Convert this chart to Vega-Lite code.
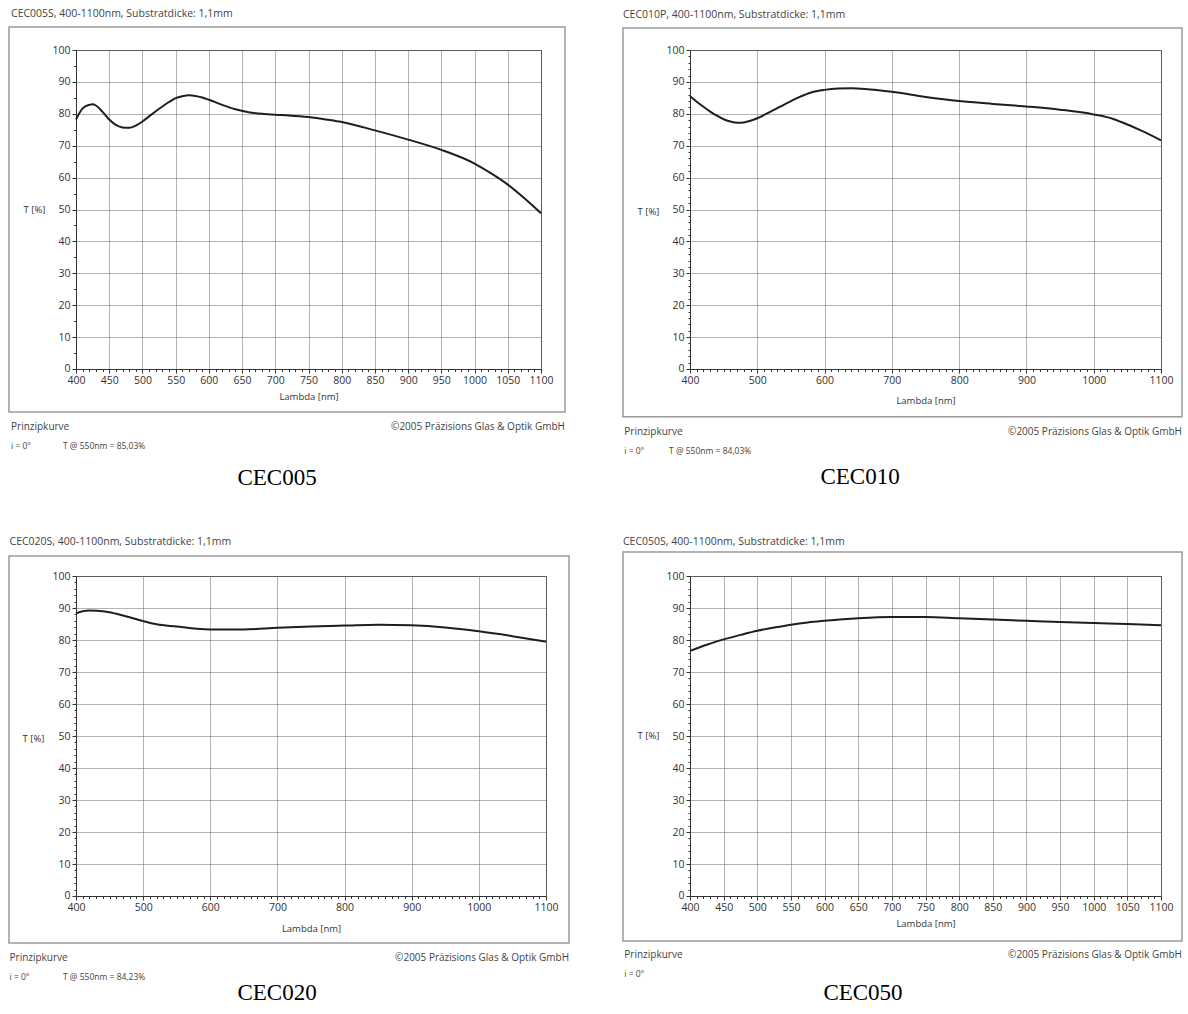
{
  "$schema": "https://vega.github.io/schema/vega-lite/v6.json",
  "background": "white",
  "padding": {"left": 7, "top": 8, "right": 0, "bottom": 0},
  "datasets": {
    "notes": [
      {"panel": "CEC005", "title": "CEC005S, 400-1100nm, Substratdicke: 1,1mm", "left": "Prinzipkurve", "right": "©2005 Präzisions Glas & Optik GmbH", "angle": "i = 0°", "tval": "T @ 550nm = 85,03%", "caption": "CEC005"},
      {"panel": "CEC010", "title": "CEC010P, 400-1100nm, Substratdicke: 1,1mm", "left": "Prinzipkurve", "right": "©2005 Präzisions Glas & Optik GmbH", "angle": "i = 0°", "tval": "T @ 550nm = 84,03%", "caption": "CEC010"},
      {"panel": "CEC020", "title": "CEC020S, 400-1100nm, Substratdicke: 1,1mm", "left": "Prinzipkurve", "right": "©2005 Präzisions Glas & Optik GmbH", "angle": "i = 0°", "tval": "T @ 550nm = 84,23%", "caption": "CEC020"},
      {"panel": "CEC050", "title": "CEC050S, 400-1100nm, Substratdicke: 1,1mm", "left": "Prinzipkurve", "right": "©2005 Präzisions Glas & Optik GmbH", "angle": "i = 0°", "tval": "", "caption": "CEC050"}
    ],
    "curves": [
      {"panel": "CEC005", "nm": 400, "T": 78.2}, {"panel": "CEC005", "nm": 410, "T": 81.7}, {"panel": "CEC005", "nm": 420, "T": 82.8}, {"panel": "CEC005", "nm": 425, "T": 83.0}, {"panel": "CEC005", "nm": 430, "T": 82.6}, {"panel": "CEC005", "nm": 440, "T": 80.6}, {"panel": "CEC005", "nm": 450, "T": 78.2}, {"panel": "CEC005", "nm": 460, "T": 76.5}, {"panel": "CEC005", "nm": 470, "T": 75.7}, {"panel": "CEC005", "nm": 480, "T": 75.6}, {"panel": "CEC005", "nm": 490, "T": 76.3}, {"panel": "CEC005", "nm": 500, "T": 77.6}, {"panel": "CEC005", "nm": 510, "T": 79.2}, {"panel": "CEC005", "nm": 520, "T": 80.8}, {"panel": "CEC005", "nm": 530, "T": 82.3}, {"panel": "CEC005", "nm": 540, "T": 83.7}, {"panel": "CEC005", "nm": 550, "T": 84.9}, {"panel": "CEC005", "nm": 560, "T": 85.5}, {"panel": "CEC005", "nm": 570, "T": 85.8}, {"panel": "CEC005", "nm": 580, "T": 85.6}, {"panel": "CEC005", "nm": 590, "T": 85.1}, {"panel": "CEC005", "nm": 600, "T": 84.4}, {"panel": "CEC005", "nm": 620, "T": 82.8}, {"panel": "CEC005", "nm": 640, "T": 81.4}, {"panel": "CEC005", "nm": 660, "T": 80.5}, {"panel": "CEC005", "nm": 680, "T": 80.0}, {"panel": "CEC005", "nm": 700, "T": 79.7}, {"panel": "CEC005", "nm": 720, "T": 79.5}, {"panel": "CEC005", "nm": 750, "T": 79.0}, {"panel": "CEC005", "nm": 780, "T": 78.1}, {"panel": "CEC005", "nm": 800, "T": 77.4}, {"panel": "CEC005", "nm": 850, "T": 74.8}, {"panel": "CEC005", "nm": 900, "T": 71.9}, {"panel": "CEC005", "nm": 950, "T": 68.7}, {"panel": "CEC005", "nm": 1000, "T": 64.4}, {"panel": "CEC005", "nm": 1025, "T": 61.3}, {"panel": "CEC005", "nm": 1050, "T": 57.8}, {"panel": "CEC005", "nm": 1075, "T": 53.5}, {"panel": "CEC005", "nm": 1100, "T": 48.8},
      {"panel": "CEC010", "nm": 400, "T": 85.5}, {"panel": "CEC010", "nm": 410, "T": 83.8}, {"panel": "CEC010", "nm": 420, "T": 82.2}, {"panel": "CEC010", "nm": 430, "T": 80.7}, {"panel": "CEC010", "nm": 440, "T": 79.4}, {"panel": "CEC010", "nm": 450, "T": 78.3}, {"panel": "CEC010", "nm": 460, "T": 77.6}, {"panel": "CEC010", "nm": 470, "T": 77.2}, {"panel": "CEC010", "nm": 480, "T": 77.3}, {"panel": "CEC010", "nm": 490, "T": 77.8}, {"panel": "CEC010", "nm": 500, "T": 78.6}, {"panel": "CEC010", "nm": 520, "T": 80.7}, {"panel": "CEC010", "nm": 540, "T": 82.9}, {"panel": "CEC010", "nm": 550, "T": 84.0}, {"panel": "CEC010", "nm": 560, "T": 85.0}, {"panel": "CEC010", "nm": 580, "T": 86.7}, {"panel": "CEC010", "nm": 600, "T": 87.5}, {"panel": "CEC010", "nm": 620, "T": 87.9}, {"panel": "CEC010", "nm": 640, "T": 88.0}, {"panel": "CEC010", "nm": 660, "T": 87.8}, {"panel": "CEC010", "nm": 680, "T": 87.4}, {"panel": "CEC010", "nm": 700, "T": 86.9}, {"panel": "CEC010", "nm": 750, "T": 85.3}, {"panel": "CEC010", "nm": 800, "T": 84.0}, {"panel": "CEC010", "nm": 850, "T": 83.1}, {"panel": "CEC010", "nm": 900, "T": 82.3}, {"panel": "CEC010", "nm": 950, "T": 81.3}, {"panel": "CEC010", "nm": 1000, "T": 79.8}, {"panel": "CEC010", "nm": 1030, "T": 78.3}, {"panel": "CEC010", "nm": 1040, "T": 77.5}, {"panel": "CEC010", "nm": 1070, "T": 74.8}, {"panel": "CEC010", "nm": 1100, "T": 71.7},
      {"panel": "CEC020", "nm": 400, "T": 88.3}, {"panel": "CEC020", "nm": 410, "T": 89.0}, {"panel": "CEC020", "nm": 420, "T": 89.2}, {"panel": "CEC020", "nm": 440, "T": 89.0}, {"panel": "CEC020", "nm": 460, "T": 88.2}, {"panel": "CEC020", "nm": 480, "T": 87.1}, {"panel": "CEC020", "nm": 500, "T": 85.9}, {"panel": "CEC020", "nm": 520, "T": 84.9}, {"panel": "CEC020", "nm": 550, "T": 84.2}, {"panel": "CEC020", "nm": 580, "T": 83.5}, {"panel": "CEC020", "nm": 600, "T": 83.3}, {"panel": "CEC020", "nm": 650, "T": 83.3}, {"panel": "CEC020", "nm": 700, "T": 83.8}, {"panel": "CEC020", "nm": 750, "T": 84.2}, {"panel": "CEC020", "nm": 800, "T": 84.5}, {"panel": "CEC020", "nm": 850, "T": 84.8}, {"panel": "CEC020", "nm": 900, "T": 84.6}, {"panel": "CEC020", "nm": 950, "T": 83.9}, {"panel": "CEC020", "nm": 1000, "T": 82.7}, {"panel": "CEC020", "nm": 1050, "T": 81.2}, {"panel": "CEC020", "nm": 1100, "T": 79.5},
      {"panel": "CEC050", "nm": 400, "T": 76.6}, {"panel": "CEC050", "nm": 425, "T": 78.5}, {"panel": "CEC050", "nm": 450, "T": 80.2}, {"panel": "CEC050", "nm": 475, "T": 81.6}, {"panel": "CEC050", "nm": 500, "T": 82.9}, {"panel": "CEC050", "nm": 525, "T": 83.9}, {"panel": "CEC050", "nm": 550, "T": 84.8}, {"panel": "CEC050", "nm": 575, "T": 85.5}, {"panel": "CEC050", "nm": 600, "T": 86.0}, {"panel": "CEC050", "nm": 650, "T": 86.8}, {"panel": "CEC050", "nm": 700, "T": 87.2}, {"panel": "CEC050", "nm": 750, "T": 87.2}, {"panel": "CEC050", "nm": 800, "T": 86.8}, {"panel": "CEC050", "nm": 850, "T": 86.4}, {"panel": "CEC050", "nm": 900, "T": 86.0}, {"panel": "CEC050", "nm": 950, "T": 85.6}, {"panel": "CEC050", "nm": 1000, "T": 85.3}, {"panel": "CEC050", "nm": 1050, "T": 85.0}, {"panel": "CEC050", "nm": 1100, "T": 84.6}
    ]
  },
  "bounds": "flush",
  "columns": 2,
  "spacing": {"row": 207, "column": 144},
  "concat": [
    {
      "width": 465, "height": 319,
      "layer": [
        {"data": {"name": "notes"}, "transform": [{"filter": "datum.panel === 'CEC005'"}],
         "mark": {"type": "rect", "fill": null, "stroke": "#9a9a9a", "strokeWidth": 1.5},
         "encoding": {"x": {"datum": 299.1, "type": "quantitative", "scale": {"domain": [400, 1100], "nice": false, "zero": false}}, "x2": {"datum": 1136.1}, "y": {"datum": 107.2, "type": "quantitative", "scale": {"domain": [0, 100], "nice": false, "zero": false}}, "y2": {"datum": -13.5}}},
        {"data": {"name": "curves"}, "transform": [{"filter": "datum.panel === 'CEC005'"}],
         "mark": {"type": "line", "color": "#1e1e1e", "strokeWidth": 2, "interpolate": "monotone"},
         "encoding": {
           "x": {"field": "nm", "type": "quantitative", "scale": {"domain": [400, 1100], "nice": false, "zero": false},
             "axis": {"values": [400,410,420,430,440,450,460,470,480,490,500,510,520,530,540,550,560,570,580,590,600,610,620,630,640,650,660,670,680,690,700,710,720,730,740,750,760,770,780,790,800,810,820,830,840,850,860,870,880,890,900,910,920,930,940,950,960,970,980,990,1000,1010,1020,1030,1040,1050,1060,1070,1080,1090,1100],
               "tickCount": 1000, "format": "d", "labelExpr": "datum.value % 50 === 0 ? datum.label : ''", "grid": true,
               "gridOpacity": {"condition": {"test": "datum.value % 50 === 0", "value": 1}, "value": 0},
               "tickSize": {"condition": {"test": "datum.value % 50 === 0", "value": 4}, "value": 2.5},
               "labelPadding": 2, "title": "Lambda [nm]", "titleX": 232.5, "titleY": 27, "titleAlign": "center", "titleBaseline": "middle"}},
           "y": {"field": "T", "type": "quantitative", "scale": {"domain": [0, 100], "nice": false, "zero": false},
             "axis": {"values": [0,5,10,15,20,25,30,35,40,45,50,55,60,65,70,75,80,85,90,95,100],
               "tickCount": 1000, "format": "d", "labelExpr": "datum.value % 10 === 0 ? datum.label : ''", "grid": true,
               "gridOpacity": {"condition": {"test": "datum.value % 10 === 0", "value": 1}, "value": 0},
               "tickSize": {"condition": {"test": "datum.value % 10 === 0", "value": 4}, "value": 2.5},
               "labelBaseline": {"condition": {"test": "datum.value === 0", "value": "alphabetic"}, "value": "middle"},
               "labelOffset": {"condition": {"test": "datum.value === 0", "value": 2}, "value": 0},
               "labelPadding": 2, "title": "T [%]", "titleAngle": 0, "titleX": -42, "titleY": 159, "titleAlign": "center", "titleBaseline": "middle"}}
         }},
        {"data": {"name": "notes"}, "transform": [{"filter": "datum.panel === 'CEC005'"}],
         "mark": {"type": "text", "align": "left", "baseline": "alphabetic", "fontSize": 10.5},
         "encoding": {"x": {"datum": 302.2, "type": "quantitative"}, "y": {"datum": 110.2, "type": "quantitative"}, "text": {"field": "title"}}},
        {"data": {"name": "notes"}, "transform": [{"filter": "datum.panel === 'CEC005'"}],
         "mark": {"type": "text", "align": "left", "baseline": "middle", "fontSize": 10},
         "encoding": {"x": {"datum": 302.2, "type": "quantitative"}, "y": {"datum": -18.2, "type": "quantitative"}, "text": {"field": "left"}}},
        {"data": {"name": "notes"}, "transform": [{"filter": "datum.panel === 'CEC005'"}],
         "mark": {"type": "text", "align": "right", "baseline": "middle", "fontSize": 10},
         "encoding": {"x": {"datum": 1136.1, "type": "quantitative"}, "y": {"datum": -18.2, "type": "quantitative"}, "text": {"field": "right"}}},
        {"data": {"name": "notes"}, "transform": [{"filter": "datum.panel === 'CEC005'"}],
         "mark": {"type": "text", "align": "left", "baseline": "middle", "fontSize": 8.5},
         "encoding": {"x": {"datum": 302.2, "type": "quantitative"}, "y": {"datum": -24.1, "type": "quantitative"}, "text": {"field": "angle"}}},
        {"data": {"name": "notes"}, "transform": [{"filter": "datum.panel === 'CEC005'"}],
         "mark": {"type": "text", "align": "left", "baseline": "middle", "fontSize": 8.5},
         "encoding": {"x": {"datum": 380.4, "type": "quantitative"}, "y": {"datum": -24.1, "type": "quantitative"}, "text": {"field": "tval"}}},
        {"data": {"name": "notes"}, "transform": [{"filter": "datum.panel === 'CEC005'"}],
         "mark": {"type": "text", "align": "center", "baseline": "middle", "fontSize": 23, "font": "Liberation Serif", "color": "#000"},
         "encoding": {"x": {"datum": 702.6, "type": "quantitative"}, "y": {"datum": -34.2, "type": "quantitative"}, "text": {"field": "caption"}}}
      ]
    },
    {
      "width": 471, "height": 319,
      "layer": [
        {"data": {"name": "notes"}, "transform": [{"filter": "datum.panel === 'CEC010'"}],
         "mark": {"type": "rect", "fill": null, "stroke": "#9a9a9a", "strokeWidth": 1.5},
         "encoding": {"x": {"datum": 300.4, "type": "quantitative", "scale": {"domain": [400, 1100], "nice": false, "zero": false}}, "x2": {"datum": 1131.2}, "y": {"datum": 106.9, "type": "quantitative", "scale": {"domain": [0, 100], "nice": false, "zero": false}}, "y2": {"datum": -15.0}}},
        {"data": {"name": "curves"}, "transform": [{"filter": "datum.panel === 'CEC010'"}],
         "mark": {"type": "line", "color": "#1e1e1e", "strokeWidth": 2, "interpolate": "monotone"},
         "encoding": {
           "x": {"field": "nm", "type": "quantitative", "scale": {"domain": [400, 1100], "nice": false, "zero": false},
             "axis": {"values": [400,410,420,430,440,450,460,470,480,490,500,510,520,530,540,550,560,570,580,590,600,610,620,630,640,650,660,670,680,690,700,710,720,730,740,750,760,770,780,790,800,810,820,830,840,850,860,870,880,890,900,910,920,930,940,950,960,970,980,990,1000,1010,1020,1030,1040,1050,1060,1070,1080,1090,1100],
               "tickCount": 1000, "format": "d", "labelExpr": "datum.value % 100 === 0 ? datum.label : ''", "grid": true,
               "gridOpacity": {"condition": {"test": "datum.value % 100 === 0", "value": 1}, "value": 0},
               "tickSize": {"condition": {"test": "datum.value % 100 === 0", "value": 4}, "value": 2.5},
               "labelPadding": 2, "title": "Lambda [nm]", "titleX": 235.5, "titleY": 31, "titleAlign": "center", "titleBaseline": "middle"}},
           "y": {"field": "T", "type": "quantitative", "scale": {"domain": [0, 100], "nice": false, "zero": false},
             "axis": {"values": [0,2,4,6,8,10,12,14,16,18,20,22,24,26,28,30,32,34,36,38,40,42,44,46,48,50,52,54,56,58,60,62,64,66,68,70,72,74,76,78,80,82,84,86,88,90,92,94,96,98,100],
               "tickCount": 1000, "format": "d", "labelExpr": "datum.value % 10 === 0 ? datum.label : ''", "grid": true,
               "gridOpacity": {"condition": {"test": "datum.value % 10 === 0", "value": 1}, "value": 0},
               "tickSize": {"condition": {"test": "datum.value % 10 === 0", "value": 4}, "value": 2},
               "labelBaseline": {"condition": {"test": "datum.value === 0", "value": "alphabetic"}, "value": "middle"},
               "labelOffset": {"condition": {"test": "datum.value === 0", "value": 2}, "value": 0},
               "labelPadding": 2, "title": "T [%]", "titleAngle": 0, "titleX": -42, "titleY": 161, "titleAlign": "center", "titleBaseline": "middle"}}
         }},
        {"data": {"name": "notes"}, "transform": [{"filter": "datum.panel === 'CEC010'"}],
         "mark": {"type": "text", "align": "left", "baseline": "alphabetic", "fontSize": 10.5},
         "encoding": {"x": {"datum": 300.4, "type": "quantitative"}, "y": {"datum": 110.0, "type": "quantitative"}, "text": {"field": "title"}}},
        {"data": {"name": "notes"}, "transform": [{"filter": "datum.panel === 'CEC010'"}],
         "mark": {"type": "text", "align": "left", "baseline": "middle", "fontSize": 10},
         "encoding": {"x": {"datum": 302.4, "type": "quantitative"}, "y": {"datum": -19.7, "type": "quantitative"}, "text": {"field": "left"}}},
        {"data": {"name": "notes"}, "transform": [{"filter": "datum.panel === 'CEC010'"}],
         "mark": {"type": "text", "align": "right", "baseline": "middle", "fontSize": 10},
         "encoding": {"x": {"datum": 1131.2, "type": "quantitative"}, "y": {"datum": -19.7, "type": "quantitative"}, "text": {"field": "right"}}},
        {"data": {"name": "notes"}, "transform": [{"filter": "datum.panel === 'CEC010'"}],
         "mark": {"type": "text", "align": "left", "baseline": "middle", "fontSize": 8.5},
         "encoding": {"x": {"datum": 302.4, "type": "quantitative"}, "y": {"datum": -25.7, "type": "quantitative"}, "text": {"field": "angle"}}},
        {"data": {"name": "notes"}, "transform": [{"filter": "datum.panel === 'CEC010'"}],
         "mark": {"type": "text", "align": "left", "baseline": "middle", "fontSize": 8.5},
         "encoding": {"x": {"datum": 368.8, "type": "quantitative"}, "y": {"datum": -25.7, "type": "quantitative"}, "text": {"field": "tval"}}},
        {"data": {"name": "notes"}, "transform": [{"filter": "datum.panel === 'CEC010'"}],
         "mark": {"type": "text", "align": "center", "baseline": "middle", "fontSize": 23, "font": "Liberation Serif", "color": "#000"},
         "encoding": {"x": {"datum": 652.7, "type": "quantitative"}, "y": {"datum": -33.9, "type": "quantitative"}, "text": {"field": "caption"}}}
      ]
    },
    {
      "width": 470, "height": 320,
      "layer": [
        {"data": {"name": "notes"}, "transform": [{"filter": "datum.panel === 'CEC020'"}],
         "mark": {"type": "rect", "fill": null, "stroke": "#9a9a9a", "strokeWidth": 1.5},
         "encoding": {"x": {"datum": 300.2, "type": "quantitative", "scale": {"domain": [400, 1100], "nice": false, "zero": false}}, "x2": {"datum": 1134.3}, "y": {"datum": 106.25, "type": "quantitative", "scale": {"domain": [0, 100], "nice": false, "zero": false}}, "y2": {"datum": -14.7}}},
        {"data": {"name": "curves"}, "transform": [{"filter": "datum.panel === 'CEC020'"}],
         "mark": {"type": "line", "color": "#1e1e1e", "strokeWidth": 2, "interpolate": "monotone"},
         "encoding": {
           "x": {"field": "nm", "type": "quantitative", "scale": {"domain": [400, 1100], "nice": false, "zero": false},
             "axis": {"values": [400,410,420,430,440,450,460,470,480,490,500,510,520,530,540,550,560,570,580,590,600,610,620,630,640,650,660,670,680,690,700,710,720,730,740,750,760,770,780,790,800,810,820,830,840,850,860,870,880,890,900,910,920,930,940,950,960,970,980,990,1000,1010,1020,1030,1040,1050,1060,1070,1080,1090,1100],
               "tickCount": 1000, "format": "d", "labelExpr": "datum.value % 100 === 0 ? datum.label : ''", "grid": true,
               "gridOpacity": {"condition": {"test": "datum.value % 100 === 0", "value": 1}, "value": 0},
               "tickSize": {"condition": {"test": "datum.value % 100 === 0", "value": 4}, "value": 2.5},
               "labelPadding": 2, "title": "Lambda [nm]", "titleX": 235, "titleY": 32, "titleAlign": "center", "titleBaseline": "middle"}},
           "y": {"field": "T", "type": "quantitative", "scale": {"domain": [0, 100], "nice": false, "zero": false},
             "axis": {"values": [0,2,4,6,8,10,12,14,16,18,20,22,24,26,28,30,32,34,36,38,40,42,44,46,48,50,52,54,56,58,60,62,64,66,68,70,72,74,76,78,80,82,84,86,88,90,92,94,96,98,100],
               "tickCount": 1000, "format": "d", "labelExpr": "datum.value % 10 === 0 ? datum.label : ''", "grid": true,
               "gridOpacity": {"condition": {"test": "datum.value % 10 === 0", "value": 1}, "value": 0},
               "tickSize": {"condition": {"test": "datum.value % 10 === 0", "value": 4}, "value": 2},
               "labelBaseline": {"condition": {"test": "datum.value === 0", "value": "alphabetic"}, "value": "middle"},
               "labelOffset": {"condition": {"test": "datum.value === 0", "value": 2}, "value": 0},
               "labelPadding": 2, "title": "T [%]", "titleAngle": 0, "titleX": -43, "titleY": 162, "titleAlign": "center", "titleBaseline": "middle"}}
         }},
        {"data": {"name": "notes"}, "transform": [{"filter": "datum.panel === 'CEC020'"}],
         "mark": {"type": "text", "align": "left", "baseline": "alphabetic", "fontSize": 10.5},
         "encoding": {"x": {"datum": 301.0, "type": "quantitative"}, "y": {"datum": 109.7, "type": "quantitative"}, "text": {"field": "title"}}},
        {"data": {"name": "notes"}, "transform": [{"filter": "datum.panel === 'CEC020'"}],
         "mark": {"type": "text", "align": "left", "baseline": "middle", "fontSize": 10},
         "encoding": {"x": {"datum": 301.0, "type": "quantitative"}, "y": {"datum": -19.4, "type": "quantitative"}, "text": {"field": "left"}}},
        {"data": {"name": "notes"}, "transform": [{"filter": "datum.panel === 'CEC020'"}],
         "mark": {"type": "text", "align": "right", "baseline": "middle", "fontSize": 10},
         "encoding": {"x": {"datum": 1134.3, "type": "quantitative"}, "y": {"datum": -19.4, "type": "quantitative"}, "text": {"field": "right"}}},
        {"data": {"name": "notes"}, "transform": [{"filter": "datum.panel === 'CEC020'"}],
         "mark": {"type": "text", "align": "left", "baseline": "middle", "fontSize": 8.5},
         "encoding": {"x": {"datum": 301.0, "type": "quantitative"}, "y": {"datum": -25.3, "type": "quantitative"}, "text": {"field": "angle"}}},
        {"data": {"name": "notes"}, "transform": [{"filter": "datum.panel === 'CEC020'"}],
         "mark": {"type": "text", "align": "left", "baseline": "middle", "fontSize": 8.5},
         "encoding": {"x": {"datum": 380.6, "type": "quantitative"}, "y": {"datum": -25.3, "type": "quantitative"}, "text": {"field": "tval"}}},
        {"data": {"name": "notes"}, "transform": [{"filter": "datum.panel === 'CEC020'"}],
         "mark": {"type": "text", "align": "center", "baseline": "middle", "fontSize": 23, "font": "Liberation Serif", "color": "#000"},
         "encoding": {"x": {"datum": 699.4, "type": "quantitative"}, "y": {"datum": -30.3, "type": "quantitative"}, "text": {"field": "caption"}}}
      ]
    },
    {
      "width": 471, "height": 320,
      "layer": [
        {"data": {"name": "notes"}, "transform": [{"filter": "datum.panel === 'CEC050'"}],
         "mark": {"type": "rect", "fill": null, "stroke": "#9a9a9a", "strokeWidth": 1.5},
         "encoding": {"x": {"datum": 300.4, "type": "quantitative", "scale": {"domain": [400, 1100], "nice": false, "zero": false}}, "x2": {"datum": 1131.2}, "y": {"datum": 107.5, "type": "quantitative", "scale": {"domain": [0, 100], "nice": false, "zero": false}}, "y2": {"datum": -14.1}}},
        {"data": {"name": "curves"}, "transform": [{"filter": "datum.panel === 'CEC050'"}],
         "mark": {"type": "line", "color": "#1e1e1e", "strokeWidth": 2, "interpolate": "monotone"},
         "encoding": {
           "x": {"field": "nm", "type": "quantitative", "scale": {"domain": [400, 1100], "nice": false, "zero": false},
             "axis": {"values": [400,410,420,430,440,450,460,470,480,490,500,510,520,530,540,550,560,570,580,590,600,610,620,630,640,650,660,670,680,690,700,710,720,730,740,750,760,770,780,790,800,810,820,830,840,850,860,870,880,890,900,910,920,930,940,950,960,970,980,990,1000,1010,1020,1030,1040,1050,1060,1070,1080,1090,1100],
               "tickCount": 1000, "format": "d", "labelExpr": "datum.value % 50 === 0 ? datum.label : ''", "grid": true,
               "gridOpacity": {"condition": {"test": "datum.value % 50 === 0", "value": 1}, "value": 0},
               "tickSize": {"condition": {"test": "datum.value % 50 === 0", "value": 4}, "value": 2.5},
               "labelPadding": 2, "title": "Lambda [nm]", "titleX": 235.5, "titleY": 27, "titleAlign": "center", "titleBaseline": "middle"}},
           "y": {"field": "T", "type": "quantitative", "scale": {"domain": [0, 100], "nice": false, "zero": false},
             "axis": {"values": [0,2,4,6,8,10,12,14,16,18,20,22,24,26,28,30,32,34,36,38,40,42,44,46,48,50,52,54,56,58,60,62,64,66,68,70,72,74,76,78,80,82,84,86,88,90,92,94,96,98,100],
               "tickCount": 1000, "format": "d", "labelExpr": "datum.value % 10 === 0 ? datum.label : ''", "grid": true,
               "gridOpacity": {"condition": {"test": "datum.value % 10 === 0", "value": 1}, "value": 0},
               "tickSize": {"condition": {"test": "datum.value % 10 === 0", "value": 4}, "value": 2},
               "labelBaseline": {"condition": {"test": "datum.value === 0", "value": "alphabetic"}, "value": "middle"},
               "labelOffset": {"condition": {"test": "datum.value === 0", "value": 2}, "value": 0},
               "labelPadding": 2, "title": "T [%]", "titleAngle": 0, "titleX": -42, "titleY": 159, "titleAlign": "center", "titleBaseline": "middle"}}
         }},
        {"data": {"name": "notes"}, "transform": [{"filter": "datum.panel === 'CEC050'"}],
         "mark": {"type": "text", "align": "left", "baseline": "alphabetic", "fontSize": 10.5},
         "encoding": {"x": {"datum": 300.4, "type": "quantitative"}, "y": {"datum": 109.7, "type": "quantitative"}, "text": {"field": "title"}}},
        {"data": {"name": "notes"}, "transform": [{"filter": "datum.panel === 'CEC050'"}],
         "mark": {"type": "text", "align": "left", "baseline": "middle", "fontSize": 10},
         "encoding": {"x": {"datum": 302.4, "type": "quantitative"}, "y": {"datum": -18.4, "type": "quantitative"}, "text": {"field": "left"}}},
        {"data": {"name": "notes"}, "transform": [{"filter": "datum.panel === 'CEC050'"}],
         "mark": {"type": "text", "align": "right", "baseline": "middle", "fontSize": 10},
         "encoding": {"x": {"datum": 1131.2, "type": "quantitative"}, "y": {"datum": -18.4, "type": "quantitative"}, "text": {"field": "right"}}},
        {"data": {"name": "notes"}, "transform": [{"filter": "datum.panel === 'CEC050'"}],
         "mark": {"type": "text", "align": "left", "baseline": "middle", "fontSize": 8.5},
         "encoding": {"x": {"datum": 302.4, "type": "quantitative"}, "y": {"datum": -24.4, "type": "quantitative"}, "text": {"field": "angle"}}},
        {"data": {"name": "notes"}, "transform": [{"filter": "datum.panel === 'CEC050'"}],
         "mark": {"type": "text", "align": "center", "baseline": "middle", "fontSize": 23, "font": "Liberation Serif", "color": "#000"},
         "encoding": {"x": {"datum": 657.1, "type": "quantitative"}, "y": {"datum": -30.3, "type": "quantitative"}, "text": {"field": "caption"}}}
      ]
    }
  ],
  "config": {
    "view": {"stroke": "#555", "strokeWidth": 1},
    "axis": {"labelFont": "Open Sans", "labelFontSize": 10.5, "labelColor": "#333", "labelOverlap": false, "labelFlush": false, "labelBound": false, "domainColor": "#333", "tickColor": "#333", "gridColor": "#666", "gridDash": [1, 1], "titleFont": "Open Sans", "titleFontSize": 9.5, "titleFontWeight": "normal", "titleColor": "#333"},
    "text": {"font": "Open Sans", "fontSize": 10, "color": "#444"}
  }
}
